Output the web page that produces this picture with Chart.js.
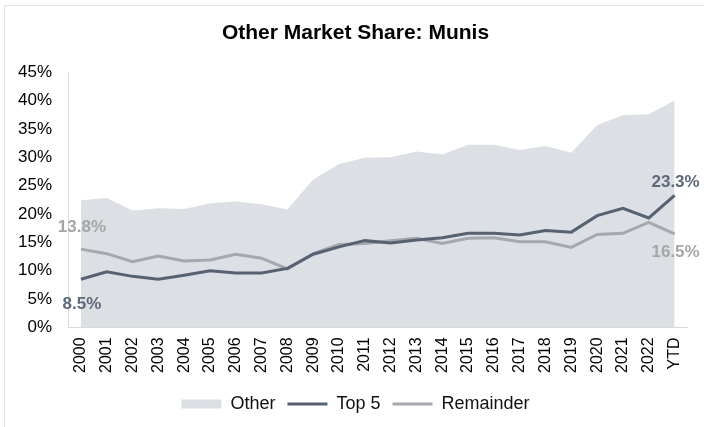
<!DOCTYPE html>
<html lang="en">

<head>
    <meta charset="UTF-8">
    <title>Other Market Share: Munis</title>
    <script src="https://cdn.jsdelivr.net/npm/chart.js"></script>
    <style>
        body {
            margin: 0;
            background-color: #fff;
            font-family: Arial, "Liberation Sans", sans-serif;
        }

        .frame {
            position: absolute;
            left: 4px;
            top: 5px;
            width: 760px;
            height: 480px;
            border: 1px solid #e4e4e4;
            pointer-events: none;
        }

        .wrap {
            position: relative;
            width: 704px;
            height: 427px;
        }
    </style>
</head>

<body>
    <div class="wrap">
        <canvas id="shareChart" width="704" height="427"></canvas>
    </div>
    <div class="frame"></div>

    <script>
        const years = ['2000', '2001', '2002', '2003', '2004', '2005', '2006', '2007', '2008', '2009', '2010', '2011',
            '2012', '2013', '2014', '2015', '2016', '2017', '2018', '2019', '2020', '2021', '2022', 'YTD'];
        const otherShare = [22.4, 22.8, 20.6, 21.0, 20.9, 21.9, 22.2, 21.7, 20.8, 26.1, 28.8, 29.9,
            30.0, 31.0, 30.5, 32.2, 32.2, 31.3, 32.0, 30.8, 35.7, 37.4, 37.6, 40.0];
        const top5Share = [8.5, 9.8, 9.0, 8.5, 9.2, 10.0, 9.6, 9.6, 10.4, 12.9, 14.2, 15.3,
            14.9, 15.4, 15.8, 16.6, 16.6, 16.3, 17.1, 16.8, 19.7, 21.0, 19.3, 23.3];
        const remainderShare = [13.8, 13.0, 11.6, 12.6, 11.7, 11.9, 12.9, 12.2, 10.3, 13.0, 14.6, 14.8,
            15.3, 15.7, 14.8, 15.7, 15.8, 15.1, 15.1, 14.1, 16.4, 16.6, 18.5, 16.5];
        const yTicks = [0, 5, 10, 15, 20, 25, 30, 35, 40, 45];

        const AREA = '#dcdfe3';
        const DARK = '#566272';
        const LIGHT = '#a5a8ad';

        // first / last value labels on the two lines
        const endLabels = {
            id: 'endLabels',
            afterDatasetsDraw(chart) {
                const ctx = chart.ctx;
                ctx.save();
                ctx.font = 'bold 17px Arial';
                ctx.textAlign = 'center';
                ctx.textBaseline = 'middle';
                const spots = [
                    { ds: 1, i: 0, dy: 25, color: '#5d6a7c' },
                    { ds: 2, i: 0, dy: -22, color: '#a6a6a6' },
                    { ds: 1, i: years.length - 1, dy: -13, color: '#5d6a7c' },
                    { ds: 2, i: years.length - 1, dy: 18, color: '#a6a6a6' }
                ];
                spots.forEach(s => {
                    const pt = chart.getDatasetMeta(s.ds).data[s.i];
                    const val = chart.data.datasets[s.ds].data[s.i];
                    ctx.fillStyle = s.color;
                    ctx.fillText(val.toFixed(1) + '%', pt.x + 1, pt.y + s.dy);
                });
                ctx.restore();
            }
        };

        new Chart(document.getElementById('shareChart'), {
            type: 'line',
            data: {
                labels: years,
                datasets: [{
                    label: 'Other',
                    data: otherShare,
                    backgroundColor: AREA,
                    borderColor: AREA,
                    borderWidth: 0,
                    fill: 'origin',
                    pointRadius: 0,
                    pointStyle: 'rect',
                    order: 2
                }, {
                    label: 'Top 5',
                    data: top5Share,
                    borderColor: DARK,
                    backgroundColor: DARK,
                    borderWidth: 3,
                    fill: false,
                    pointRadius: 0,
                    pointStyle: 'line',
                    order: 0
                }, {
                    label: 'Remainder',
                    data: remainderShare,
                    borderColor: LIGHT,
                    backgroundColor: LIGHT,
                    borderWidth: 3,
                    fill: false,
                    pointRadius: 0,
                    pointStyle: 'line',
                    order: 1
                }]
            },
            options: {
                responsive: false,
                animation: false,
                layout: {
                    padding: { top: 5, left: 17, right: 10, bottom: 4 }
                },
                plugins: {
                    title: {
                        display: true,
                        text: 'Other Market Share: Munis',
                        color: '#000',
                        font: { family: 'Arial', size: 21, weight: 'bold' },
                        padding: { top: 16, bottom: 26 }
                    },
                    legend: {
                        position: 'bottom',
                        labels: {
                            usePointStyle: true,
                            pointStyleWidth: 40,
                            boxHeight: 9,
                            padding: 12,
                            color: '#111',
                            font: { family: 'Arial', size: 18 },
                            sort: (a, b) => a.datasetIndex - b.datasetIndex
                        }
                    },
                    tooltip: { enabled: false }
                },
                scales: {
                    x: {
                        offset: true,
                        grid: { display: false, drawTicks: false },
                        border: { color: '#d9d9d9', width: 1 },
                        ticks: {
                            color: '#000',
                            font: { family: 'Arial', size: 16 },
                            maxRotation: 90,
                            minRotation: 90,
                            padding: 10,
                            autoSkip: false
                        }
                    },
                    y: {
                        min: 0,
                        max: 45,
                        grid: { display: false, drawTicks: false },
                        border: { color: '#d9d9d9', width: 1 },
                        afterBuildTicks(scale) {
                            scale.ticks = yTicks.map(v => ({ value: v }));
                        },
                        afterFit(scale) {
                            scale.width = 51;
                        },
                        ticks: {
                            color: '#000',
                            font: { family: 'Arial', size: 17 },
                            padding: 16,
                            callback: v => v + '%'
                        }
                    }
                }
            },
            plugins: [endLabels]
        });
    </script>
</body>

</html>
